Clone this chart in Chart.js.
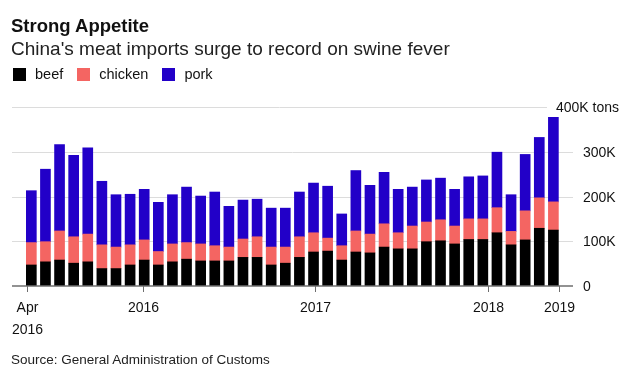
<!DOCTYPE html>
<html>
<head>
<meta charset="utf-8">
<script src="https://cdn.jsdelivr.net/npm/chart.js@4"></script>
<style>
  html, body { margin: 0; padding: 0; background: #fff; }
  body { width: 627px; height: 388px; position: relative; overflow: hidden;
         font-family: "Liberation Sans", Arial, sans-serif; color: #111; }
  #chart { position: absolute; left: 0; top: 0; }
  .title { position: absolute; left: 11px; top: 17px; font-size: 18.5px; line-height: 18px; font-weight: bold; }
  .subtitle { position: absolute; left: 11px; top: 39px; font-size: 19px; line-height: 19px; color: #222; }
  .legend { position: absolute; left: 13px; top: 67px; font-size: 14.5px; line-height: 15px; display: flex; }
  .legend span { display: flex; align-items: center; margin-right: 14px; }
  .legend i { display: inline-block; width: 13px; height: 13px; margin-right: 9px; }
  .source { position: absolute; left: 11px; top: 353px; font-size: 13.5px; line-height: 14px; color: #222; }
</style>
</head>
<body>
<canvas id="chart" width="627" height="388"></canvas>
<div class="title">Strong Appetite</div>
<div class="subtitle">China's meat imports surge to record on swine fever</div>
<div class="legend" id="legend"></div>
<div class="source">Source: General Administration of Customs</div>
<script>
// 月次輸入量（千トン）
const beef = [47, 54, 58, 51, 54, 39, 39, 47, 58, 47, 54, 60, 56, 56, 56, 64, 64, 47, 51, 64,
  76, 78, 58, 76, 74, 87, 83, 83, 99, 101, 94, 104, 104, 119, 92, 103, 129, 125];
const chicken = [50, 45, 65, 59, 62, 53, 48, 45, 45, 30, 40, 37, 38, 34, 31, 41, 46, 40, 36, 46,
  43, 29, 32, 47, 42, 52, 36, 51, 44, 47, 40, 46, 46, 56, 30, 65, 68, 63];
const pork = [116, 162, 193, 182, 193, 142, 117, 113, 113, 110, 110, 124, 107, 120, 91, 87, 84, 87, 87, 100,
  111, 116, 71, 135, 109, 115, 97, 87, 94, 93, 82, 94, 96, 124, 82, 126, 135, 189];

// 棒の位置（月の通し番号）
const months = beef.map((_, i) => i);

// 軸ラベル
const xTickPos = [-0.31, 7.94, 20.13, 32.35, 37.4];
const xTickLabels = [['Apr', '2016'], ['2016'], ['2017'], ['2018'], ['2019']];
const yTicks = [0, 100, 200, 300, 400];
const yTickLabels = ['0', '100K', '200K', '300K', '400K tons'];

const series = [
  { label: 'beef', data: beef, color: '#000000' },
  { label: 'chicken', data: chicken, color: '#f46562' },
  { label: 'pork', data: pork, color: '#2200c8' }
];

// 凡例
const legendEl = document.getElementById('legend');
series.forEach(s => {
  const item = document.createElement('span');
  item.innerHTML = '<i style="background:' + s.color + '"></i>' + s.label;
  legendEl.appendChild(item);
});

// 目盛り線と軸ラベルを描く
const axisPlugin = {
  id: 'axisPlugin',
  beforeDatasetsDraw(chart) {
    const { ctx, chartArea: a, scales: { y } } = chart;
    ctx.save();
    ctx.strokeStyle = '#dcdcdc';
    ctx.lineWidth = 1;
    yTicks.forEach((v, i) => {
      if (v === 0) return;
      const py = Math.round(y.getPixelForValue(v)) + 0.5;
      const end = i === yTicks.length - 1 ? a.right - 26 : a.right;
      ctx.beginPath();
      ctx.moveTo(a.left, py);
      ctx.lineTo(end, py);
      ctx.stroke();
    });
    ctx.restore();
  },
  afterDatasetsDraw(chart) {
    const { ctx, chartArea: a, scales: { x, y } } = chart;
    ctx.save();
    const base = y.getPixelForValue(0);
    ctx.strokeStyle = '#6e6e6e';
    ctx.lineWidth = 1.5;
    ctx.beginPath();
    ctx.moveTo(a.left, base);
    ctx.lineTo(a.right, base);
    ctx.stroke();

    ctx.lineWidth = 1;
    ctx.fillStyle = '#111';
    ctx.font = '14px "Liberation Sans", Arial, sans-serif';
    ctx.textBaseline = 'alphabetic';
    ctx.textAlign = 'center';
    xTickPos.forEach((v, i) => {
      const px = Math.round(x.getPixelForValue(v)) + 0.5;
      ctx.beginPath();
      ctx.moveTo(px, base);
      ctx.lineTo(px, base + 6);
      ctx.stroke();
      xTickLabels[i].forEach((t, j) => {
        ctx.fillText(t, px, base + 25.5 + j * 22);
      });
    });

    yTicks.forEach((v, i) => {
      const py = y.getPixelForValue(v);
      if (i === yTicks.length - 1) {
        ctx.textAlign = 'right';
        ctx.fillText(yTickLabels[i], a.right + 46, py + 5);
      } else {
        ctx.textAlign = 'left';
        ctx.fillText(yTickLabels[i], a.right + 10, py + 5);
      }
    });
    ctx.restore();
  }
};

new Chart(document.getElementById('chart'), {
  type: 'bar',
  data: {
    datasets: series.map(s => ({
      label: s.label,
      data: s.data.map((v, i) => ({ x: months[i], y: v })),
      backgroundColor: s.color,
      borderWidth: 0,
      barThickness: 10
    }))
  },
  options: {
    responsive: false,
    animation: false,
    layout: { padding: { left: 12, right: 54, top: 107, bottom: 102 } },
    plugins: { legend: { display: false }, tooltip: { enabled: false } },
    scales: {
      x: { type: 'linear', stacked: true, display: false, offset: false, min: -1.37, max: 38.39 },
      y: { stacked: true, display: false, min: 0, max: 400 }
    }
  },
  plugins: [axisPlugin]
});
</script>
</body>
</html>
